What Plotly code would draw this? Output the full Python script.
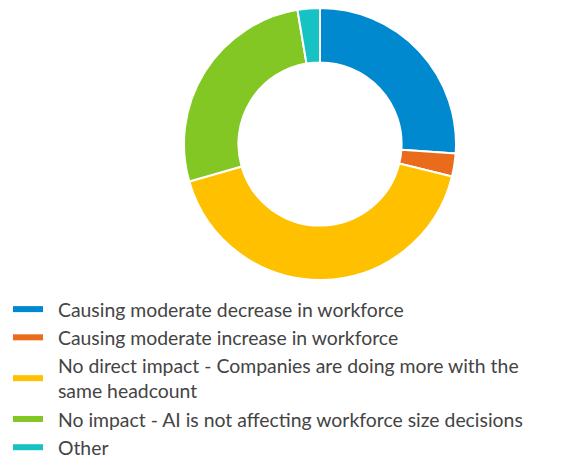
import plotly.graph_objects as go

labels = [
    "Causing moderate decrease in workforce",
    "Causing moderate increase in workforce",
    "No direct impact - Companies are doing more with the<br>same headcount",
    "No impact - AI is not affecting workforce size decisions",
    "Other",
]
values = [26.1, 2.75, 41.7, 26.8, 2.65]
colors = ["#0089CF", "#EB6B1D", "#FFC000", "#83C724", "#17C2C4"]

W, H = 562, 459
PAD = "\u00a0\u00a0"

fig = go.Figure()
fig.add_trace(go.Pie(
    labels=labels, values=values, sort=False, direction="clockwise", rotation=0,
    hole=0.6, marker=dict(colors=colors, line=dict(color="white", width=2)),
    textinfo="none", hoverinfo="label+percent", showlegend=False,
    domain=dict(x=[176/W, 448/W], y=[(H-272)/H, 1.0]),
))
for lab, col in zip(labels, colors):
    name = PAD + lab.replace("<br>", "<br>" + PAD)
    fig.add_trace(go.Scatter(x=[None], y=[None], mode="lines", name=name,
                             line=dict(color=col, width=6), showlegend=True))

fig.update_layout(
    width=W, height=H, margin=dict(l=0, r=0, t=0, b=0),
    paper_bgcolor="white", plot_bgcolor="white",
    xaxis=dict(visible=False), yaxis=dict(visible=False),
    font=dict(family="Lato", size=19.4, color="#444444"),
    legend=dict(x=0, y=0, xanchor="left", yanchor="bottom", orientation="v",
                itemwidth=30, tracegroupgap=0, font=dict(size=19.4)),
)
fig.write_html("out.html")
